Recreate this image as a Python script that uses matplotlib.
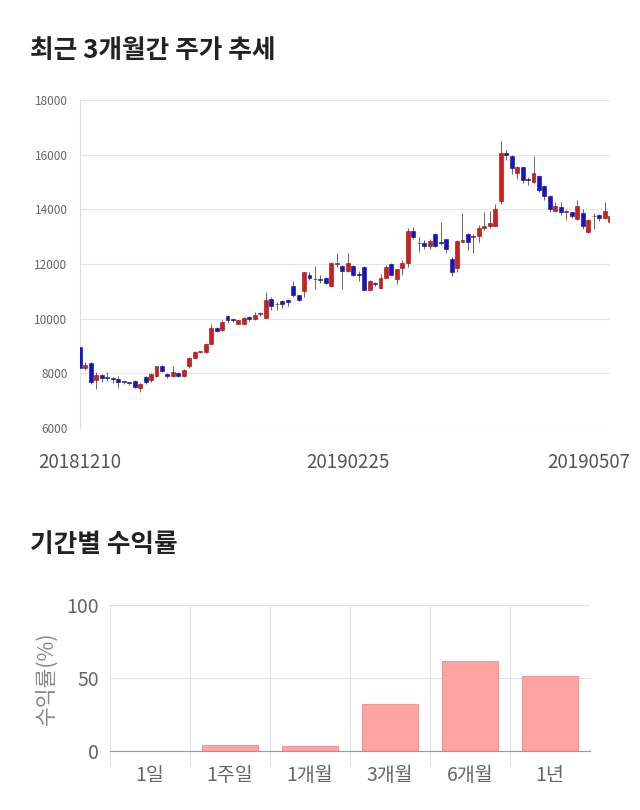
import numpy as np
import matplotlib
matplotlib.use("Agg")
from matplotlib import pyplot as plt
from matplotlib import transforms

plt.rcParams["font.family"] = ["Noto Sans CJK KR", "DejaVu Sans"]

# daily candles, 20181210 .. 20190507
opens = [8960, 8210, 8390, 7770, 7950, 7840, 7810, 7780, 7680, 7660,
         7720, 7460, 7870, 7745, 7890, 8280, 7990, 7900, 8025, 7900,
         8255, 8575, 8790, 8780, 9085, 9670, 9600, 10090, 9950, 9820,
         9820, 10060, 10000, 10170, 10040, 10735, 10520, 10640, 10700, 11200,
         10860, 11000, 11590, 11440, 11420, 11490, 11200, 12000, 11930, 11750,
         11940, 11600, 11900, 11065, 11310, 11140, 11500, 11990, 11455, 11860,
         12040, 13200, 12760, 12750, 12650, 13090, 12780, 12900, 12200, 11840,
         12810, 13090, 12990, 13020, 13300, 13400, 13400, 14300, 16045, 15950,
         15340, 15535, 15070, 15010, 15230, 14850, 14500, 13945, 14090, 13900,
         13900, 13650, 13850, 13180, 13740, 13800, 13700, 13545]
highs = [8960, 8420, 8400, 8050, 7990, 8050, 7860, 7920, 7700, 7700,
         7760, 7650, 7900, 8010, 8270, 8300, 8010, 8260, 8060, 8170,
         8600, 8800, 8830, 9100, 9800, 9700, 9950, 10120, 10000, 9960,
         10060, 10100, 10250, 10260, 10980, 10800, 10600, 10680, 10720, 11360,
         10880, 11720, 11700, 11920, 11600, 11520, 12060, 12400, 11960, 12390,
         11960, 11760, 11920, 11400, 11350, 11620, 11950, 12020, 11820, 12160,
         13300, 13370, 12990, 12860, 12900, 13150, 13545, 12920, 12250, 12880,
         13850, 13120, 13100, 13420, 13900, 13950, 14200, 16500, 16180, 15980,
         15600, 15560, 15200, 15950, 15260, 14900, 14520, 14250, 14250, 13990,
         13920, 14330, 14020, 13630, 13870, 13830, 14280, 13800]
lows = [8150, 8110, 7600, 7440, 7700, 7720, 7660, 7480, 7600, 7560,
        7480, 7320, 7600, 7700, 7860, 8050, 7830, 7880, 7860, 7860,
        8180, 8560, 8760, 8760, 9070, 9500, 9560, 9850, 9880, 9800,
        9800, 9930, 9960, 10100, 10020, 10300, 10300, 10380, 10450, 10800,
        10640, 10800, 11400, 11080, 11300, 11280, 11180, 11900, 11080, 11700,
        11560, 11380, 11050, 11050, 11200, 11100, 11480, 11580, 11250, 11600,
        11880, 12900, 12450, 12560, 12560, 12620, 12700, 12400, 11550, 11690,
        12790, 12500, 12400, 12800, 13250, 13320, 13380, 14200, 15800, 15300,
        15100, 14980, 14900, 14980, 14620, 14350, 13900, 13930, 13780, 13600,
        13700, 13600, 13280, 13150, 13280, 13560, 13650, 13500]
closes = [8210, 8290, 7680, 7950, 7830, 7820, 7800, 7680, 7660, 7640,
          7500, 7600, 7680, 7990, 8255, 8075, 7900, 8050, 7900, 8135,
          8575, 8780, 8810, 9085, 9670, 9550, 9880, 9940, 9930, 9940,
          10040, 10000, 10150, 10190, 10700, 10455, 10540, 10520, 10600, 10860,
          10700, 11690, 11500, 11420, 11400, 11310, 12040, 12020, 11750, 12040,
          11610, 11580, 11065, 11380, 11260, 11490, 11900, 11610, 11800, 12040,
          13200, 12970, 12750, 12650, 12850, 12650, 12770, 12565, 11690, 12850,
          12880, 12810, 13000, 13300, 13400, 13505, 13995, 16045, 15985, 15500,
          15535, 15070, 15060, 15340, 14700, 14500, 13995, 14140, 13910, 13945,
          13750, 14120, 13400, 13600, 13760, 13700, 13945, 13750]
date_labels = ["20181210", "20190225", "20190507"]
date_index = [0, 49, 97]

periods = ["1일", "1주일", "1개월", "3개월", "6개월", "1년"]
returns = [0.0, 3.8, 3.2, 32.3, 61.9, 51.3]

fig = plt.figure(figsize=(6.4, 8.1), dpi=100)

# ---- candlestick chart ----
fig.text(30 / 640, 1 - 50 / 810, "최근 3개월간 주가 추세", fontsize=18.5,
         fontweight="bold", color="#222222", va="center", ha="left")

ax = fig.add_axes([80 / 640, 1 - 428 / 810, 530 / 640, 328 / 810])
o = np.array(opens)
h = np.array(highs)
l = np.array(lows)
c = np.array(closes)
x = np.arange(len(o))
up = c >= o
colors = np.where(up, "#d31c1c", "#1515c8")
edges = np.where(up, "#8a1010", "#0b0b80")

ax.vlines(x, l, h, color="#666666", linewidth=0.7, zorder=2)
body = np.where(np.abs(c - o) < 25, 25, c - o)
ax.bar(x, body, bottom=o, width=0.72, color=colors, edgecolor=edges,
       linewidth=0.4, zorder=3)

ax.set_xlim(0, len(o) - 1)
ax.set_ylim(6000, 18000)
ax.set_yticks(np.arange(6000, 18001, 2000))
ax.tick_params(axis="y", length=0, pad=9, labelsize=8.5, labelcolor="#666666")
ax.set_xticks(date_index)
ax.set_xticklabels(date_labels)
ax.tick_params(axis="x", length=0, pad=17, labelsize=13.5, labelcolor="#555555")
last = ax.get_xticklabels()[-1]
last.set_ha("right")
last.set_transform(last.get_transform() +
                   transforms.ScaledTranslation(20 / 100, 0, fig.dpi_scale_trans))
ax.grid(True, axis="y", color="#e6e6e6", linewidth=0.8)
ax.set_axisbelow(True)
for side in ["top", "right", "bottom"]:
    ax.spines[side].set_visible(False)
ax.spines["left"].set_color("#dddddd")

# ---- period returns ----
fig.text(30 / 640, 1 - 545 / 810, "기간별 수익률", fontsize=18.5,
         fontweight="bold", color="#222222", va="center", ha="left")

bx = fig.add_axes([110 / 640, 1 - 751 / 810, 480 / 640, 146 / 810])
pos = np.arange(len(periods))
bx.bar(pos, returns, width=0.7, color="#ffa3a3", edgecolor="#eb9a9a",
       linewidth=0.8, zorder=3)
bx.set_xlim(-0.5, len(periods) - 0.5)
bx.set_ylim(0, 100)
bx.set_yticks([0, 50, 100])
bx.tick_params(axis="y", length=0, pad=8, labelsize=14, labelcolor="#666666")
bx.set_xticks(pos)
bx.set_xticklabels(periods)
bx.tick_params(axis="x", which="major", length=0, pad=10, labelsize=14,
               labelcolor="#666666")
bx.set_xticks(np.arange(-0.5, len(periods) - 1, 1), minor=True)
bx.tick_params(axis="x", which="minor", length=11, width=0.8, color="#e3e3e3")
bx.grid(True, axis="y", which="major", color="#e3e3e3", linewidth=0.8)
bx.grid(True, axis="x", which="minor", color="#e3e3e3", linewidth=0.8)
bx.set_axisbelow(True)
for side in ["top", "right", "left"]:
    bx.spines[side].set_visible(False)
bx.spines["bottom"].set_color("#999999")
bx.spines["bottom"].set_zorder(4)
bx.set_ylabel("수익률(%)", fontsize=15.5, color="#888888", labelpad=6)

fig.savefig("out.png", dpi=100)
plt.close(fig)
